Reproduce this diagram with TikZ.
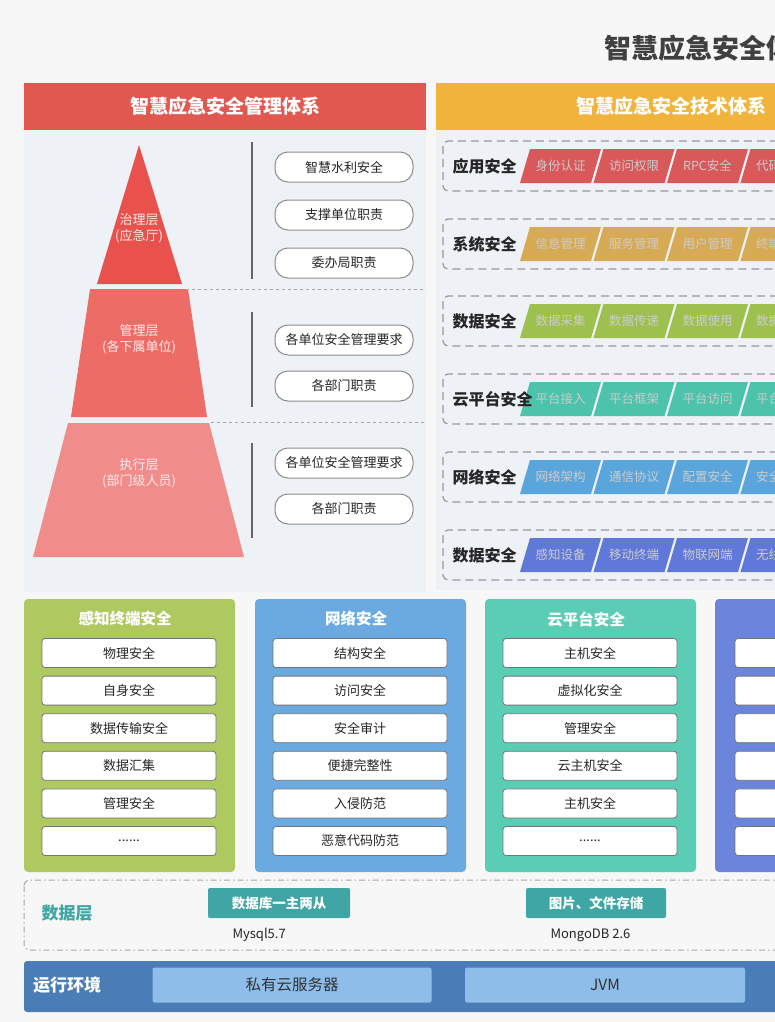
\documentclass[tikz,border=0pt]{standalone}
\usepackage{fontspec}
\setmainfont{Noto Sans CJK SC}
\newcommand{\pxfont}[1]{\fontsize{#1}{#1}\selectfont}
\newcommand{\moredots}{......}
\definecolor{pagebg}{RGB}{247,247,247}
\definecolor{panelbg}{RGB}{238,241,246}
\definecolor{mgmtred}{RGB}{224,88,80}
\definecolor{techorange}{RGB}{240,180,60}
\definecolor{layone}{RGB}{232,81,76}
\definecolor{laytwo}{RGB}{238,108,102}
\definecolor{laythree}{RGB}{240,140,138}
\definecolor{appred}{RGB}{217,88,90}
\definecolor{sysgold}{RGB}{215,170,85}
\definecolor{datagreen}{RGB}{157,192,78}
\definecolor{cloudteal}{RGB}{76,195,170}
\definecolor{netblue}{RGB}{90,165,220}
\definecolor{devblue}{RGB}{96,120,216}
\definecolor{sensecol}{RGB}{174,201,95}
\definecolor{netcol}{RGB}{106,170,224}
\definecolor{cloudcol}{RGB}{92,205,181}
\definecolor{devcol}{RGB}{107,133,220}
\definecolor{dbteal}{RGB}{63,165,165}
\definecolor{runbar}{RGB}{74,125,181}
\definecolor{runbox}{RGB}{141,189,232}

\begin{document}
\begin{tikzpicture}[x=1pt,y=-1pt,
  pill/.style={draw=black!45,line width=1pt,fill=white,rounded corners=13pt,minimum width=138pt,minimum height=30pt,font=\pxfont{13},text=black!85},
  layertext/.style={align=center,text=white!92!red,font=\pxfont{13}},
  rowframe/.style={draw=black!40,line width=1.2pt,rounded corners=5pt,dash pattern=on 8pt off 5pt},
  rowlabel/.style={anchor=west,font=\pxfont{16}\bfseries,text=black!85},
  tagtext/.style={font=\pxfont{12.5},text=white!80!black},
  cellbox/.style={draw=black!55,line width=0.8pt,fill=white,rounded corners=3pt,minimum width=174pt,minimum height=29pt,font=\pxfont{13},text=black!85},
  coltitle/.style={font=\pxfont{15.5}\bfseries,text=white},
  tealbox/.style={fill=dbteal,rounded corners=2pt,minimum height=30pt,font=\pxfont{13.5}\bfseries,text=white},
  envbox/.style={fill=runbox,rounded corners=2pt,minimum height=35pt,minimum width=279pt,font=\pxfont{15.5},text=black!80}]
\path[use as bounding box] (0,0) rectangle (775,1022);
\clip (0,0) rectangle (775,1022);
\fill[pagebg] (0,0) rectangle (775,1022);

\node[anchor=west,font=\pxfont{27}\bfseries,text=black!75] (title) at (601,48) {智慧应急安全体系};

\fill[mgmtred] (24,83) rectangle (426,130);
\node[font=\pxfont{19}\bfseries,text=white] (mhead) at (225,106) {智慧应急安全管理体系};
\fill[techorange] (436,83) rectangle (906,130);
\node[font=\pxfont{19}\bfseries,text=white] (thead) at (671,106) {智慧应急安全技术体系};

\fill[panelbg] (24,130) rectangle (426,592);
\fill[panelbg] (436,130) rectangle (800,590);

\fill[layone] (139,145) -- (182,284) -- (97,284) -- cycle;
\fill[laytwo] (90,289) -- (188,289) -- (207,417) -- (71,417) -- cycle;
\fill[laythree] (68,423) -- (209,423) -- (244,557) -- (33,557) -- cycle;
\node[layertext] (gov) at (139,228) {治理层\\[3pt](应急厅)};
\node[layertext] (mid) at (139,339) {管理层\\[3pt](各下属单位)};
\node[layertext] (exe) at (139,473) {执行层\\[3pt](部门级人员)};

\draw[black!35,dashed,line width=1pt] (186,289) -- (426,289);
\draw[black!35,dashed,line width=1pt] (211,422) -- (426,422);
\draw[black!60,line width=1.2pt] (252,142) -- (252,279);
\draw[black!60,line width=1.2pt] (252,312) -- (252,407);
\draw[black!60,line width=1.2pt] (252,443) -- (252,538);

\node[pill] (p1) at (344,167) {智慧水利安全};
\node[pill] (p2) at (344,215) {支撑单位职责};
\node[pill] (p3) at (344,263) {委办局职责};
\node[pill] (p4) at (344,340) {各单位安全管理要求};
\node[pill] (p5) at (344,386) {各部门职责};
\node[pill] (p6) at (344,463) {各单位安全管理要求};
\node[pill] (p7) at (344,509) {各部门职责};

\foreach \row/\yc/\lab/\col/\a/\b/\c/\d in {
  1/166/应用安全/appred/身份认证/访问权限/RPC安全/代码安全,
  2/244/系统安全/sysgold/信息管理/服务管理/用户管理/终端管理,
  3/321/数据安全/datagreen/数据采集/数据传递/数据使用/数据销毁,
  4/399/云平台安全/cloudteal/平台接入/平台框架/平台访问/平台管理,
  5/477/网络安全/netblue/网络架构/通信协议/配置安全/安全审计,
  6/555/数据安全/devblue/感知设备/移动终端/物联网端/无线网络}
{
  \draw[rowframe] (443,\yc-25) rectangle (820,\yc+25);
  \foreach \k/\t in {0/\a,1/\b,2/\c,3/\d} {
    \fill[\col] (520+73.5*\k,\yc+17) -- (530+73.5*\k,\yc-17) -- (601+73.5*\k,\yc-17) -- (591+73.5*\k,\yc+17) -- cycle;
    \node[tagtext] (t\row\k) at (560.5+73.5*\k,\yc) {\t};
  }
  \node[rowlabel] (r\row) at (449,\yc) {\lab};
}

\foreach \n/\x/\col/\ttl/\items in {
  1/24/sensecol/感知终端安全/{物理安全,自身安全,数据传输安全,数据汇集,管理安全,\moredots},
  2/255/netcol/网络安全/{结构安全,访问安全,安全审计,便捷完整性,入侵防范,恶意代码防范},
  3/485/cloudcol/云平台安全/{主机安全,虚拟化安全,管理安全,云主机安全,主机安全,\moredots}}
{
  \fill[\col,rounded corners=4pt] (\x,599) rectangle (\x+211,872);
  \node[coltitle] (c\n) at (\x+101,619) {\ttl};
  \foreach \it [count=\i from 0] in \items
    \node[cellbox] (c\n i\i) at (\x+105,653+37.6*\i) {\it};
}
\fill[devcol,rounded corners=4pt] (715,599) rectangle (926,872);
\foreach \i in {0,1,2,3,4,5}
  \node[cellbox] (c4i\i) at (822,653+37.6*\i) {};

\draw[black!35,line width=1pt,dash pattern=on 6pt off 3pt on 1.5pt off 3pt,rounded corners=6pt] (24,880) rectangle (820,950);
\node[font=\pxfont{17}\bfseries,text=dbteal] (dlab) at (67,913) {数据层};
\node[tealbox,minimum width=142pt] (db1) at (279,903) {数据库一主两从};
\node[tealbox,minimum width=140pt] (db2) at (596,903) {图片、文件存储};
\node[anchor=west,font=\pxfont{13},text=black!85] (mysql) at (229,935) {Mysql5.7};
\node[anchor=west,font=\pxfont{13},text=black!85] (mongo) at (547,935) {MongoDB 2.6};

\fill[runbar,rounded corners=3pt] (24,961) rectangle (820,1012);
\node[font=\pxfont{17}\bfseries,text=white] (rlab) at (67,985) {运行环境};
\node[envbox] (srv) at (292,985) {私有云服务器};
\node[envbox,minimum width=280pt] (jvm) at (605,985) {JVM};
\end{tikzpicture}
\end{document}
